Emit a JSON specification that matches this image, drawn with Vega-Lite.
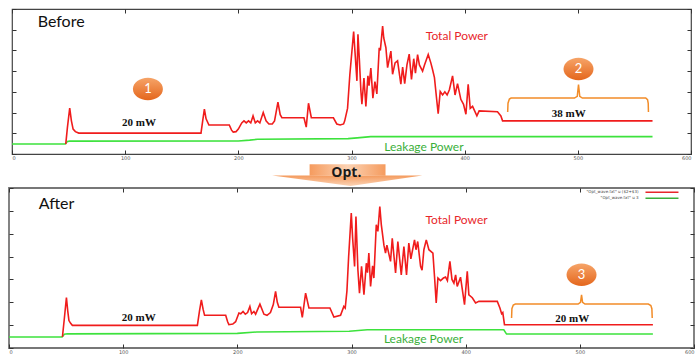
{
"$schema": "https://vega.github.io/schema/vega-lite/v6.json",
"background": "white",
"padding": {"left": 4, "top": 7, "right": 2, "bottom": 2},
"spacing": 0,
"bounds": "flush",
"center": true,
"config": {
  "axis": {"grid": false, "domain": false, "tickColor": "#333", "tickWidth": 1, "labelFontSize": 5, "labelColor": "#555", "labelFont": "DejaVu Sans"}
},
"datasets": {
  "top": [
    {"s":"g","x":0,"y":0.48},{"s":"g","x":47,"y":0.48},{"s":"g","x":49,"y":0.6},{"s":"g","x":51,"y":0.62},{"s":"g","x":200,"y":0.63},{"s":"g","x":210,"y":0.67},{"s":"g","x":217,"y":0.71},{"s":"g","x":297,"y":0.74},{"s":"g","x":305,"y":0.78},{"s":"g","x":317,"y":0.84},{"s":"g","x":566,"y":0.84},
    {"s":"t","x":47.5,"y":0.48},{"s":"t","x":49,"y":1.3},{"s":"t","x":51,"y":2.22},{"s":"t","x":52.5,"y":1.6},{"s":"t","x":54,"y":1.2},{"s":"t","x":56,"y":1.08},{"s":"t","x":59,"y":1.01},{"s":"t","x":167,"y":1.01},{"s":"t","x":168.5,"y":1.6},{"s":"t","x":170,"y":2.17},{"s":"t","x":171.5,"y":1.7},{"s":"t","x":174,"y":1.4},{"s":"t","x":192,"y":1.4},{"s":"t","x":194,"y":1.15},{"s":"t","x":195.5,"y":1.06},{"s":"t","x":198,"y":1.08},{"s":"t","x":200,"y":1.2},{"s":"t","x":203,"y":1.5},{"s":"t","x":205,"y":1.6},{"s":"t","x":207,"y":1.5},{"s":"t","x":209,"y":1.6},{"s":"t","x":211,"y":1.5},{"s":"t","x":213,"y":1.84},{"s":"t","x":215,"y":1.5},{"s":"t","x":217,"y":1.6},{"s":"t","x":219,"y":1.5},{"s":"t","x":222,"y":2.0},{"s":"t","x":224.5,"y":1.6},{"s":"t","x":227,"y":1.45},{"s":"t","x":230,"y":1.45},{"s":"t","x":232,"y":1.6},{"s":"t","x":235,"y":2.5},{"s":"t","x":237,"y":1.9},{"s":"t","x":238.5,"y":1.75},{"s":"t","x":258,"y":1.75},{"s":"t","x":260,"y":1.3},{"s":"t","x":262,"y":2.45},{"s":"t","x":264.5,"y":1.75},{"s":"t","x":284,"y":1.75},{"s":"t","x":287,"y":1.45},{"s":"t","x":290,"y":1.4},{"s":"t","x":293,"y":1.45},{"s":"t","x":294,"y":1.6},{"s":"t","x":295,"y":1.84},{"s":"t","x":296.5,"y":2.2},{"s":"t","x":298.5,"y":3.8},{"s":"t","x":301.9,"y":5.91},{"s":"t","x":303,"y":5.0},{"s":"t","x":304.8,"y":3.53},{"s":"t","x":305.7,"y":5.78},{"s":"t","x":307,"y":4.5},{"s":"t","x":308.3,"y":3.04},{"s":"t","x":309.2,"y":2.4},{"s":"t","x":311,"y":3.67},{"s":"t","x":312.7,"y":2.3},{"s":"t","x":314.5,"y":3.77},{"s":"t","x":315.5,"y":3.3},{"s":"t","x":317.1,"y":4.15},{"s":"t","x":318.9,"y":2.7},{"s":"t","x":320.7,"y":3.5},{"s":"t","x":322.4,"y":2.9},{"s":"t","x":324.5,"y":5.13},{"s":"t","x":325.5,"y":5.0},{"s":"t","x":327.5,"y":6.18},{"s":"t","x":328.5,"y":5.6},{"s":"t","x":330.4,"y":5.13},{"s":"t","x":331.9,"y":4.17},{"s":"t","x":334.8,"y":4.97},{"s":"t","x":336.3,"y":3.85},{"s":"t","x":338.5,"y":4.4},{"s":"t","x":340.7,"y":4.5},{"s":"t","x":343.6,"y":3.37},{"s":"t","x":345.2,"y":4.2},{"s":"t","x":347,"y":3.4},{"s":"t","x":349,"y":4.3},{"s":"t","x":351,"y":4.82},{"s":"t","x":353,"y":3.6},{"s":"t","x":355,"y":4.6},{"s":"t","x":356.5,"y":3.9},{"s":"t","x":358.4,"y":4.8},{"s":"t","x":360,"y":4.3},{"s":"t","x":362.8,"y":4.0},{"s":"t","x":364.5,"y":4.3},{"s":"t","x":367.8,"y":4.8},{"s":"t","x":370.1,"y":4.4},{"s":"t","x":371.5,"y":4.1},{"s":"t","x":373.3,"y":3.69},{"s":"t","x":375.4,"y":2.56},{"s":"t","x":376.6,"y":1.95},{"s":"t","x":378.4,"y":3.02},{"s":"t","x":380.5,"y":2.85},{"s":"t","x":382.5,"y":3.0},{"s":"t","x":384.5,"y":2.85},{"s":"t","x":386.5,"y":3.1},{"s":"t","x":389.3,"y":3.77},{"s":"t","x":391.5,"y":2.85},{"s":"t","x":393.7,"y":3.4},{"s":"t","x":396.6,"y":2.64},{"s":"t","x":399,"y":2.4},{"s":"t","x":401.1,"y":1.92},{"s":"t","x":403.1,"y":3.37},{"s":"t","x":404.9,"y":2.2},{"s":"t","x":407,"y":2.3},{"s":"t","x":410.8,"y":1.84},{"s":"t","x":412.8,"y":2.08},{"s":"t","x":429,"y":2.04},{"s":"t","x":432,"y":1.84},{"s":"t","x":433.5,"y":1.6},{"s":"t","x":566,"y":1.6}
  ],
  "bottom": [
    {"s":"g","x":0,"y":0.48},{"s":"g","x":46.5,"y":0.48},{"s":"g","x":48.5,"y":0.6},{"s":"g","x":51,"y":0.62},{"s":"g","x":200,"y":0.64},{"s":"g","x":217,"y":0.7},{"s":"g","x":298,"y":0.73},{"s":"g","x":313.8,"y":0.8},{"s":"g","x":433.4,"y":0.8},{"s":"g","x":435.8,"y":0.61},{"s":"g","x":564,"y":0.61},
    {"s":"t","x":46.8,"y":0.48},{"s":"t","x":48.5,"y":1.3},{"s":"t","x":50.3,"y":2.21},{"s":"t","x":51.5,"y":1.6},{"s":"t","x":52.5,"y":1.2},{"s":"t","x":54,"y":1.08},{"s":"t","x":55.5,"y":0.99},{"s":"t","x":165,"y":0.99},{"s":"t","x":166.8,"y":1.6},{"s":"t","x":168.5,"y":2.11},{"s":"t","x":170,"y":1.7},{"s":"t","x":171.3,"y":1.43},{"s":"t","x":189.8,"y":1.43},{"s":"t","x":191.5,"y":1.15},{"s":"t","x":192.6,"y":1.02},{"s":"t","x":196,"y":1.05},{"s":"t","x":198.5,"y":1.15},{"s":"t","x":201.4,"y":1.53},{"s":"t","x":203,"y":1.5},{"s":"t","x":205,"y":1.6},{"s":"t","x":207,"y":1.48},{"s":"t","x":209,"y":1.55},{"s":"t","x":211,"y":1.82},{"s":"t","x":212.5,"y":1.5},{"s":"t","x":214.5,"y":1.6},{"s":"t","x":216,"y":1.48},{"s":"t","x":219.8,"y":1.92},{"s":"t","x":223.3,"y":1.48},{"s":"t","x":226,"y":1.43},{"s":"t","x":229,"y":1.55},{"s":"t","x":231.5,"y":1.9},{"s":"t","x":233.5,"y":2.48},{"s":"t","x":235,"y":2.0},{"s":"t","x":236.4,"y":1.78},{"s":"t","x":255.4,"y":1.78},{"s":"t","x":256.9,"y":1.34},{"s":"t","x":259.8,"y":2.4},{"s":"t","x":262.7,"y":1.75},{"s":"t","x":281.1,"y":1.75},{"s":"t","x":284.6,"y":1.35},{"s":"t","x":290.4,"y":1.43},{"s":"t","x":293.3,"y":1.82},{"s":"t","x":294.5,"y":1.75},{"s":"t","x":296,"y":2.5},{"s":"t","x":297.5,"y":4.0},{"s":"t","x":299.8,"y":5.9},{"s":"t","x":301,"y":4.8},{"s":"t","x":302.7,"y":3.57},{"s":"t","x":303.9,"y":5.75},{"s":"t","x":305.6,"y":3.42},{"s":"t","x":307,"y":2.4},{"s":"t","x":308.8,"y":3.57},{"s":"t","x":310.9,"y":2.33},{"s":"t","x":313,"y":3.71},{"s":"t","x":314,"y":3.3},{"s":"t","x":315.2,"y":4.15},{"s":"t","x":316.7,"y":2.69},{"s":"t","x":318.5,"y":3.6},{"s":"t","x":319.6,"y":3.06},{"s":"t","x":321.7,"y":5.39},{"s":"t","x":323.1,"y":5.1},{"s":"t","x":324.8,"y":6.19},{"s":"t","x":326.1,"y":5.4},{"s":"t","x":328.4,"y":4.5},{"s":"t","x":329.8,"y":4.15},{"s":"t","x":331,"y":4.5},{"s":"t","x":334.2,"y":3.79},{"s":"t","x":335.7,"y":4.8},{"s":"t","x":338.6,"y":3.28},{"s":"t","x":340.6,"y":4.66},{"s":"t","x":343.6,"y":3.2},{"s":"t","x":345.9,"y":4.44},{"s":"t","x":348.2,"y":3.2},{"s":"t","x":350.2,"y":4.59},{"s":"t","x":352,"y":3.9},{"s":"t","x":355.2,"y":4.73},{"s":"t","x":356.5,"y":4.3},{"s":"t","x":358,"y":4.66},{"s":"t","x":360.5,"y":3.57},{"s":"t","x":361.8,"y":3.4},{"s":"t","x":363.4,"y":4.3},{"s":"t","x":365.5,"y":4.73},{"s":"t","x":367.8,"y":4.3},{"s":"t","x":371.3,"y":4.15},{"s":"t","x":372.8,"y":3.06},{"s":"t","x":374.2,"y":1.97},{"s":"t","x":375.7,"y":3.06},{"s":"t","x":378,"y":2.95},{"s":"t","x":380.5,"y":3.06},{"s":"t","x":382.4,"y":3.1},{"s":"t","x":384,"y":2.95},{"s":"t","x":386.2,"y":3.79},{"s":"t","x":388,"y":3.0},{"s":"t","x":389.7,"y":2.84},{"s":"t","x":391.2,"y":3.2},{"s":"t","x":392.6,"y":2.69},{"s":"t","x":395.5,"y":3.1},{"s":"t","x":399,"y":1.9},{"s":"t","x":401.4,"y":3.35},{"s":"t","x":402.8,"y":2.33},{"s":"t","x":405.8,"y":2.2},{"s":"t","x":408.7,"y":1.97},{"s":"t","x":411.6,"y":2.04},{"s":"t","x":427.7,"y":2.04},{"s":"t","x":430,"y":1.75},{"s":"t","x":431.5,"y":1.5},{"s":"t","x":432.5,"y":1.55},{"s":"t","x":434,"y":1.02},{"s":"t","x":564,"y":1.02}
  ]
},
"vconcat": [
  {
    "width": 679, "height": 145,
    "view": {"stroke": "#444", "strokeWidth": 1.2},
    "resolve": {"axis": {"x": "independent", "y": "independent"}},
    "layer": [
      {"data": {"name": "top"}, "transform": [{"filter": "datum.s == 'g'"}],
       "mark": {"type": "line", "color": "#3de23d", "strokeWidth": 1.6},
       "encoding": {
         "x": {"field": "x", "type": "quantitative", "scale": {"domain": [0, 600], "nice": false, "zero": false}, "axis": {"orient": "bottom", "values": [0,100,200,300,400,500,600], "tickSize": -4, "labelPadding": 5, "title": null}},
         "y": {"field": "y", "type": "quantitative", "scale": {"domain": [0, 7], "nice": false}, "axis": {"orient": "left", "values": [0,1,2,3,4,5,6,7], "tickSize": -4, "labels": false, "title": null}}
       }},
      {"data": {"name": "top"}, "transform": [{"filter": "datum.s == 't'"}],
       "mark": {"type": "line", "color": "#f01c1c", "strokeWidth": 1.6},
       "encoding": {
         "x": {"field": "x", "type": "quantitative", "scale": {"domain": [0, 600], "nice": false, "zero": false}, "axis": {"orient": "top", "values": [0,100,200,300,400,500,600], "tickSize": -4, "labels": false, "title": null}},
         "y": {"field": "y", "type": "quantitative", "scale": {"domain": [0, 7], "nice": false}, "axis": {"orient": "right", "values": [0,1,2,3,4,5,6,7], "tickSize": -4, "labels": false, "title": null}}
       }},
      {"data": {"values": [{"i": 0, "x": 438, "y": 2.03}, {"i": 1, "x": 438.3, "y": 2.45}, {"i": 2, "x": 439.5, "y": 2.65}, {"i": 3, "x": 441, "y": 2.7}, {"i": 4, "x": 497, "y": 2.7}, {"i": 5, "x": 499.5, "y": 2.78}, {"i": 6, "x": 500.6, "y": 3.35}, {"i": 7, "x": 501.7, "y": 2.78}, {"i": 8, "x": 504, "y": 2.7}, {"i": 9, "x": 560, "y": 2.7}, {"i": 10, "x": 561.6, "y": 2.62}, {"i": 11, "x": 562.2, "y": 2.45}, {"i": 12, "x": 562.4, "y": 2.03}]},
       "mark": {"type": "line", "color": "#f28c28", "strokeWidth": 1.5},
       "encoding": {
         "x": {"field": "x", "type": "quantitative", "scale": {"domain": [0, 600], "nice": false, "zero": false}, "axis": null},
         "y": {"field": "y", "type": "quantitative", "scale": {"domain": [0, 7], "nice": false}, "axis": null},
         "order": {"field": "i", "type": "quantitative"}
       }},
      {"data": {"values": [{"x": 120.1, "y": 3.14, "n": "1"}, {"x": 500.6, "y": 4.1, "n": "2"}]},
       "mark": {"type": "point", "filled": true, "opacity": 1, "size": 625, "shape": "M-1.2,0A1.2,0.9,0,1,0,1.2,0A1.2,0.9,0,1,0,-1.2,0Z",
                "fill": {"gradient": "linear", "x1": 0, "y1": 0, "x2": 0, "y2": 1, "stops": [{"offset": 0, "color": "#f6a468"}, {"offset": 1, "color": "#e4661c"}]}},
       "encoding": {
         "x": {"field": "x", "type": "quantitative", "scale": {"domain": [0, 600], "nice": false, "zero": false}, "axis": null},
         "y": {"field": "y", "type": "quantitative", "scale": {"domain": [0, 7], "nice": false}, "axis": null}
       }},
      {"data": {"values": [{"x": 120.1, "y": 3.14, "n": "1"}, {"x": 500.6, "y": 4.1, "n": "2"}]},
       "mark": {"type": "text", "color": "white", "font": "Lato", "fontSize": 13, "baseline": "middle"},
       "encoding": {
         "x": {"field": "x", "type": "quantitative", "scale": {"domain": [0, 600], "nice": false, "zero": false}, "axis": null},
         "y": {"field": "y", "type": "quantitative", "scale": {"domain": [0, 7], "nice": false}, "axis": null},
         "text": {"field": "n"}
       }},
      {"data": {"values": [{"x": 22.7, "y": 6.38, "t": "Before"}]},
       "mark": {"type": "text", "color": "#111", "font": "Lato", "fontSize": 16, "align": "left", "baseline": "middle"},
       "encoding": {
         "x": {"field": "x", "type": "quantitative", "scale": {"domain": [0, 600], "nice": false, "zero": false}, "axis": null},
         "y": {"field": "y", "type": "quantitative", "scale": {"domain": [0, 7], "nice": false}, "axis": null},
         "text": {"field": "t"}
       }},
      {"data": {"values": [{"x": 393.1, "y": 5.7, "t": "Total Power", "c": "r"}, {"x": 364, "y": 0.34, "t": "Leakage Power", "c": "g"}]},
       "mark": {"type": "text", "font": "Lato", "fontSize": 12, "baseline": "middle"},
       "encoding": {
         "x": {"field": "x", "type": "quantitative", "scale": {"domain": [0, 600], "nice": false, "zero": false}, "axis": null},
         "y": {"field": "y", "type": "quantitative", "scale": {"domain": [0, 7], "nice": false}, "axis": null},
         "text": {"field": "t"},
         "color": {"field": "c", "type": "nominal", "scale": {"domain": ["r", "g"], "range": ["#e8262b", "#3aaf3a"]}, "legend": null}
       }},
      {"data": {"values": [{"x": 112.2, "y": 1.5, "t": "20 mW"}, {"x": 492, "y": 1.93, "t": "38 mW"}]},
       "mark": {"type": "text", "color": "#111", "font": "Liberation Serif", "fontWeight": "bold", "fontSize": 11, "baseline": "middle"},
       "encoding": {
         "x": {"field": "x", "type": "quantitative", "scale": {"domain": [0, 600], "nice": false, "zero": false}, "axis": null},
         "y": {"field": "y", "type": "quantitative", "scale": {"domain": [0, 7], "nice": false}, "axis": null},
         "text": {"field": "t"}
       }}
    ]
  },
  {
    "width": 685, "height": 34,
    "view": {"stroke": null},
    "layer": [
      {"data": {"values": [{"x": 230.6, "y": 0.37, "y2": 0.37}, {"x": 299.2, "y": 0.06, "y2": 0.37}, {"x": 362, "y": 0.37, "y2": 0.37}]},
       "mark": {"type": "area", "interpolate": "linear",
                "fill": {"gradient": "linear", "x1": 0, "y1": 0, "x2": 0, "y2": 1, "stops": [{"offset": 0, "color": "#f49a5c"}, {"offset": 1, "color": "#fbd3b6"}]}},
       "encoding": {
         "x": {"field": "x", "type": "quantitative", "scale": {"domain": [0, 600], "nice": false, "zero": false}, "axis": null},
         "y": {"field": "y", "type": "quantitative", "scale": {"domain": [0, 1], "nice": false}, "axis": null, "stack": null},
         "y2": {"field": "y2"}
       }},
      {"data": {"values": [{"x": 263.3, "x2": 329.8, "y": 0.36, "y2": 0.70}]},
       "mark": {"type": "rect",
                "fill": {"gradient": "linear", "x1": 0, "y1": 0, "x2": 1, "y2": 0, "stops": [{"offset": 0, "color": "#f59b5e"}, {"offset": 0.5, "color": "#fcd3b4"}, {"offset": 1, "color": "#f59b5e"}]}},
       "encoding": {
         "x": {"field": "x", "type": "quantitative", "scale": {"domain": [0, 600], "nice": false, "zero": false}, "axis": null},
         "x2": {"field": "x2"},
         "y": {"field": "y", "type": "quantitative", "scale": {"domain": [0, 1], "nice": false}, "axis": null},
         "y2": {"field": "y2"}
       }},
      {"data": {"values": [{"x": 295.5, "y": 0.45, "t": "Opt."}]},
       "mark": {"type": "text", "font": "Open Sans", "fontWeight": "bold", "fontSize": 14, "color": "#1a1a1a", "baseline": "middle"},
       "encoding": {
         "x": {"field": "x", "type": "quantitative", "scale": {"domain": [0, 600], "nice": false, "zero": false}, "axis": null},
         "y": {"field": "y", "type": "quantitative", "scale": {"domain": [0, 1], "nice": false}, "axis": null},
         "text": {"field": "t"}
       }}
    ]
  },
  {
    "width": 685, "height": 160,
    "view": {"stroke": "#777", "strokeWidth": 1.8},
    "resolve": {"axis": {"x": "independent", "y": "independent"}},
    "layer": [
      {"data": {"name": "bottom"}, "transform": [{"filter": "datum.s == 'g'"}],
       "mark": {"type": "line", "color": "#3de23d", "strokeWidth": 1.6},
       "encoding": {
         "x": {"field": "x", "type": "quantitative", "scale": {"domain": [0, 600], "nice": false, "zero": false}, "axis": {"orient": "bottom", "values": [0,100,200,300,400,500,600], "tickSize": -4, "labelPadding": 5, "title": null}},
         "y": {"field": "y", "type": "quantitative", "scale": {"domain": [0, 7], "nice": false}, "axis": {"orient": "left", "values": [0,1,2,3,4,5,6,7], "tickSize": -4, "labels": false, "title": null}}
       }},
      {"data": {"name": "bottom"}, "transform": [{"filter": "datum.s == 't'"}],
       "mark": {"type": "line", "color": "#f01c1c", "strokeWidth": 1.6},
       "encoding": {
         "x": {"field": "x", "type": "quantitative", "scale": {"domain": [0, 600], "nice": false, "zero": false}, "axis": {"orient": "top", "values": [0,100,200,300,400,500,600], "tickSize": -4, "labels": false, "title": null}},
         "y": {"field": "y", "type": "quantitative", "scale": {"domain": [0, 7], "nice": false}, "axis": {"orient": "right", "values": [0,1,2,3,4,5,6,7], "tickSize": -4, "labels": false, "title": null}}
       }},
      {"data": {"values": [{"i": 0, "x": 440.2, "y": 1.31}, {"i": 1, "x": 440.5, "y": 1.72}, {"i": 2, "x": 441.7, "y": 1.88}, {"i": 3, "x": 443.5, "y": 1.92}, {"i": 4, "x": 498.5, "y": 1.92}, {"i": 5, "x": 500.6, "y": 2.0}, {"i": 6, "x": 501.5, "y": 2.32}, {"i": 7, "x": 502.4, "y": 2.0}, {"i": 8, "x": 504.5, "y": 1.92}, {"i": 9, "x": 560, "y": 1.92}, {"i": 10, "x": 562.2, "y": 1.86}, {"i": 11, "x": 563.1, "y": 1.72}, {"i": 12, "x": 563.4, "y": 1.31}]},
       "mark": {"type": "line", "color": "#f28c28", "strokeWidth": 1.5},
       "encoding": {
         "x": {"field": "x", "type": "quantitative", "scale": {"domain": [0, 600], "nice": false, "zero": false}, "axis": null},
         "y": {"field": "y", "type": "quantitative", "scale": {"domain": [0, 7], "nice": false}, "axis": null},
         "order": {"field": "i", "type": "quantitative"}
       }},
      {"data": {"values": [{"x": 501.5, "y": 3.2, "n": "3"}]},
       "mark": {"type": "point", "filled": true, "opacity": 1, "size": 625, "shape": "M-1.2,0A1.2,0.9,0,1,0,1.2,0A1.2,0.9,0,1,0,-1.2,0Z",
                "fill": {"gradient": "linear", "x1": 0, "y1": 0, "x2": 0, "y2": 1, "stops": [{"offset": 0, "color": "#f6a468"}, {"offset": 1, "color": "#e4661c"}]}},
       "encoding": {
         "x": {"field": "x", "type": "quantitative", "scale": {"domain": [0, 600], "nice": false, "zero": false}, "axis": null},
         "y": {"field": "y", "type": "quantitative", "scale": {"domain": [0, 7], "nice": false}, "axis": null}
       }},
      {"data": {"values": [{"x": 501.5, "y": 3.2, "n": "3"}]},
       "mark": {"type": "text", "color": "white", "font": "Lato", "fontSize": 13, "baseline": "middle"},
       "encoding": {
         "x": {"field": "x", "type": "quantitative", "scale": {"domain": [0, 600], "nice": false, "zero": false}, "axis": null},
         "y": {"field": "y", "type": "quantitative", "scale": {"domain": [0, 7], "nice": false}, "axis": null},
         "text": {"field": "n"}
       }},
      {"data": {"values": [{"x": 26, "y": 6.29, "t": "After"}]},
       "mark": {"type": "text", "color": "#111", "font": "Lato", "fontSize": 16, "align": "left", "baseline": "middle"},
       "encoding": {
         "x": {"field": "x", "type": "quantitative", "scale": {"domain": [0, 600], "nice": false, "zero": false}, "axis": null},
         "y": {"field": "y", "type": "quantitative", "scale": {"domain": [0, 7], "nice": false}, "axis": null},
         "text": {"field": "t"}
       }},
      {"data": {"values": [{"x": 392, "y": 5.58, "t": "Total Power", "c": "r"}, {"x": 363.1, "y": 0.39, "t": "Leakage Power", "c": "g"}]},
       "mark": {"type": "text", "font": "Lato", "fontSize": 12, "baseline": "middle"},
       "encoding": {
         "x": {"field": "x", "type": "quantitative", "scale": {"domain": [0, 600], "nice": false, "zero": false}, "axis": null},
         "y": {"field": "y", "type": "quantitative", "scale": {"domain": [0, 7], "nice": false}, "axis": null},
         "text": {"field": "t"},
         "color": {"field": "c", "type": "nominal", "scale": {"domain": ["r", "g"], "range": ["#e8262b", "#3aaf3a"]}, "legend": null}
       }},
      {"data": {"values": [{"x": 113.6, "y": 1.31, "t": "20 mW"}, {"x": 493.3, "y": 1.28, "t": "20 mW"}]},
       "mark": {"type": "text", "color": "#111", "font": "Liberation Serif", "fontWeight": "bold", "fontSize": 11, "baseline": "middle"},
       "encoding": {
         "x": {"field": "x", "type": "quantitative", "scale": {"domain": [0, 600], "nice": false, "zero": false}, "axis": null},
         "y": {"field": "y", "type": "quantitative", "scale": {"domain": [0, 7], "nice": false}, "axis": null},
         "text": {"field": "t"}
       }},
      {"data": {"values": [{"x": 551.4, "y": 6.81, "t": "\"Opt_wave.txt\" u ($2+$3)"}, {"x": 551.4, "y": 6.55, "t": "\"Opt_wave.txt\" u 3"}]},
       "mark": {"type": "text", "color": "#444", "font": "DejaVu Sans", "fontSize": 4, "align": "right", "baseline": "middle"},
       "encoding": {
         "x": {"field": "x", "type": "quantitative", "scale": {"domain": [0, 600], "nice": false, "zero": false}, "axis": null},
         "y": {"field": "y", "type": "quantitative", "scale": {"domain": [0, 7], "nice": false}, "axis": null},
         "text": {"field": "t"}
       }},
      {"data": {"values": [{"x": 557.5, "x2": 586.4, "y": 6.81, "c": "r"}, {"x": 557.5, "x2": 586.4, "y": 6.55, "c": "g"}]},
       "mark": {"type": "rule", "strokeWidth": 1.5},
       "encoding": {
         "x": {"field": "x", "type": "quantitative", "scale": {"domain": [0, 600], "nice": false, "zero": false}, "axis": null},
         "x2": {"field": "x2"},
         "y": {"field": "y", "type": "quantitative", "scale": {"domain": [0, 7], "nice": false}, "axis": null},
         "color": {"field": "c", "type": "nominal", "scale": {"domain": ["r", "g"], "range": ["#f01c1c", "#3de23d"]}, "legend": null}
       }}
    ]
  }
]
}
